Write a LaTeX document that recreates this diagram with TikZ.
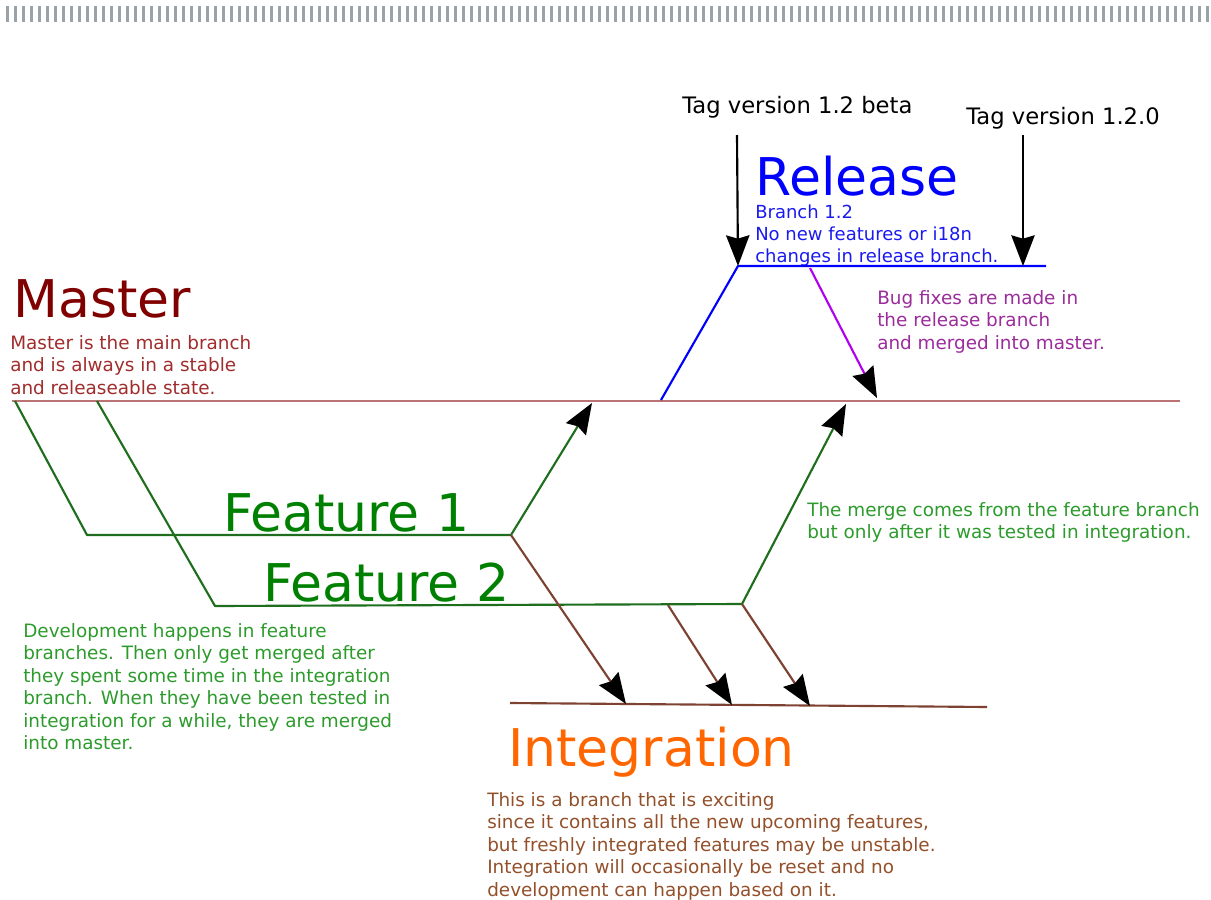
\documentclass[tikz,border=0pt]{standalone}
\usepackage{fontspec}
\setmainfont{DejaVu Sans}
\usetikzlibrary{arrows.meta}
\definecolor{tickgray}{HTML}{98A2A8}
\definecolor{masterdark}{HTML}{800000}
\definecolor{mastertext}{HTML}{A02C2C}
\definecolor{masterline}{HTML}{BA7272}
\definecolor{featuregreen}{HTML}{008000}
\definecolor{featureline}{HTML}{1E6E1E}
\definecolor{featuretext}{HTML}{2C9B2C}
\definecolor{releaseblue}{HTML}{0000FF}
\definecolor{releasetext}{HTML}{1A1AF0}
\definecolor{integorange}{HTML}{FF6600}
\definecolor{integtext}{HTML}{93502A}
\definecolor{integline}{HTML}{7E4232}
\definecolor{bugpurple}{HTML}{9B2C9B}
\definecolor{bugline}{HTML}{B000F0}

\begin{document}
\begin{tikzpicture}[x=0.75pt, y=-0.75pt, line join=round,
    bigtitle/.style={anchor=base west, inner sep=0pt, font=\fontsize{39}{41}\selectfont},
    taglabel/.style={anchor=base west, inner sep=0pt, font=\fontsize{17}{20}\selectfont},
    note/.style={anchor=north west, inner sep=0pt, align=left, font=\fontsize{13.8}{16.9}\selectfont},
    branch/.style={line width=1.6pt},
    merge/.style={line width=1.6pt, -{Stealth[length=23pt, width=17.5pt, inset=2.5pt, color=black]}}]

    \useasboundingbox (0,0) rectangle (1211,900);

    % Tick strip along the top
    \foreach \k in {0,...,150}
      \fill[tickgray] (6+8*\k,6) rectangle +(3.4,16);

    % Branch points
    \coordinate (mstart) at (12,401);
    \coordinate (mend) at (1180,401);
    \coordinate (fa0) at (15,401);
    \coordinate (fa1) at (87,535);
    \coordinate (fa2) at (511,535);
    \coordinate (fa3) at (592,403);
    \coordinate (fb0) at (97,401);
    \coordinate (fb1) at (215,606);
    \coordinate (fb2) at (742,604);
    \coordinate (fb3) at (846,404);
    \coordinate (fbmid) at (668,605);
    \coordinate (istart) at (510,703);
    \coordinate (iend) at (987,707);
    \coordinate (ia) at (626,704);
    \coordinate (ib) at (732,705);
    \coordinate (ic) at (810,706);
    \coordinate (r0) at (661,400);
    \coordinate (r1) at (738,266);
    \coordinate (r2) at (1046,266);
    \coordinate (rfix) at (810,268);
    \coordinate (mfix) at (877,398);
    \coordinate (tagbtop) at (737,135);
    \coordinate (tagftop) at (1023,135);
    \coordinate (tagfend) at (1023,266);

    % Titles
    \node[bigtitle, text=masterdark] (master) at (13,317) {Master};
    \node[bigtitle, text=featuregreen] (feat1) at (223,531) {Feature 1};
    \node[bigtitle, text=featuregreen] (feat2) at (263,601) {Feature 2};
    \node[bigtitle, text=releaseblue] (release) at (755,195) {Release};
    \node[bigtitle, text=integorange] (integ) at (508,766) {Integration};

    % Tags
    \node[taglabel] (tagbeta) at (682,113) {Tag version 1.2 beta};
    \node[taglabel] (tagfinal) at (966,124) {Tag version 1.2.0};

    % Notes
    \node[note, text=mastertext] (masternote) at (10,335)
      {Master is the main branch\\and is always in a stable\\and releaseable state.};
    \node[note, text=releasetext, font=\fontsize{13.5}{16.5}\selectfont] (relnote) at (755,205)
      {Branch 1.2\\No new features or i18n\\changes in release branch.};
    \node[note, text=bugpurple] (bugnote) at (877,290)
      {Bug fixes are made in\\the release branch\\and merged into master.};
    \node[note, text=featuretext] (mergenote) at (807,502)
      {The merge comes from the feature branch\\but only after it was tested in integration.};
    \node[note, text=featuretext] (devnote) at (23,623)
      {Development happens in feature\\branches. Then only get merged after\\they spent some time in the integration\\branch. When they have been tested in\\integration for a while, they are merged\\into master.};
    \node[note, text=integtext] (integnote) at (487,792)
      {This is a branch that is exciting\\since it contains all the new upcoming features,\\but freshly integrated features may be unstable.\\Integration will occasionally be reset and no\\development can happen based on it.};

    % Branch lines
    \draw[branch, masterline] (mstart) -- (mend);
    \draw[branch, integline] (istart) -- (iend);
    \draw[branch, releaseblue] (r0) -- (r1) -- (r2);
    \draw[branch, featureline] (fa0) -- (fa1) -- (fa2);
    \draw[branch, featureline] (fb0) -- (fb1) -- (fb2);

    % Merges
    \draw[merge, featureline] (fa2) -- (fa3);
    \draw[merge, featureline] (fb2) -- (fb3);
    \draw[merge, integline] (fa2) -- (ia);
    \draw[merge, integline] (fbmid) -- (ib);
    \draw[merge, integline] (fb2) -- (ic);
    \draw[merge, bugline] (rfix) -- (mfix);
    \draw[merge, black] (tagbtop) -- (r1);
    \draw[merge, black] (tagftop) -- (tagfend);
\end{tikzpicture}
\end{document}
